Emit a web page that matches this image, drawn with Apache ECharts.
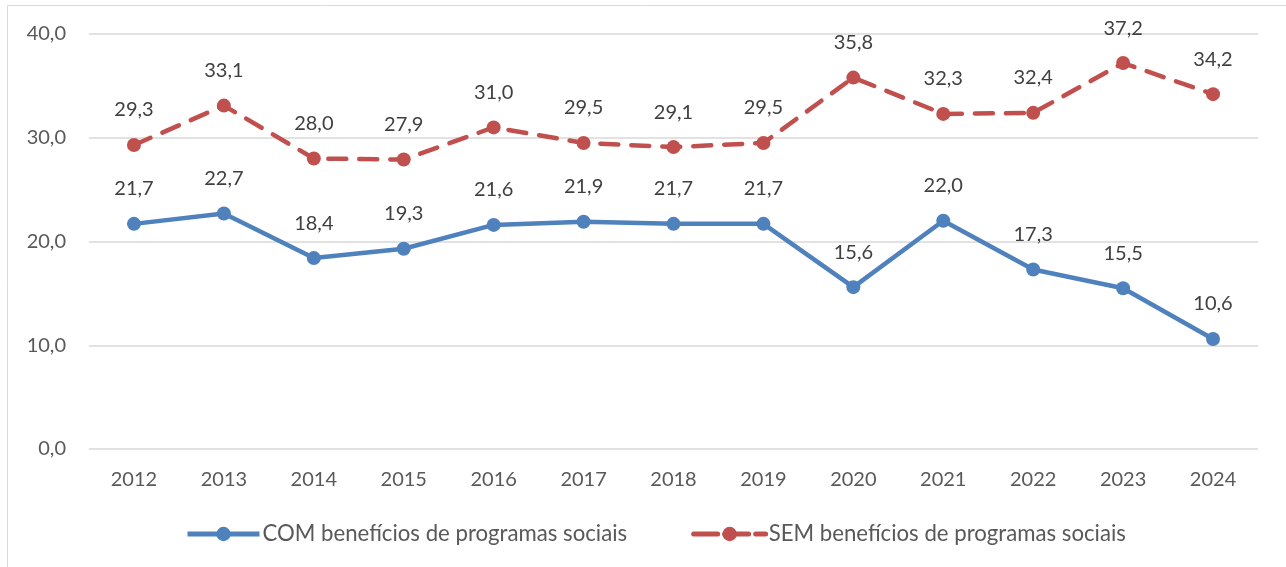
<!DOCTYPE html>
<html>
<head>
<meta charset="utf-8">
<script src="https://cdn.jsdelivr.net/npm/echarts@6/dist/echarts.min.js"></script>
<style>
  html, body { margin: 0; padding: 0; background: #fff; }
  #chart { width: 1286px; height: 567px; }
</style>
</head>
<body>
<div id="chart"></div>
<script>
const years = ['2012', '2013', '2014', '2015', '2016', '2017', '2018', '2019', '2020', '2021', '2022', '2023', '2024']
const comBeneficios = [21.7, 22.7, 18.4, 19.3, 21.6, 21.9, 21.7, 21.7, 15.6, 22.0, 17.3, 15.5, 10.6]
const semBeneficios = [29.3, 33.1, 28.0, 27.9, 31.0, 29.5, 29.1, 29.5, 35.8, 32.3, 32.4, 37.2, 34.2]
const seriesNames = ['COM benefícios de programas sociais', 'SEM benefícios de programas sociais']

const FONT = 'Lato, "Open Sans", sans-serif'
const fmt = v => v.toFixed(1).replace('.', ',')

const chart = echarts.init(document.getElementById('chart'))

// label common style
const labelStyle = {
  show: true,
  position: 'top',
  distance: 18,
  color: '#404040',
  fontSize: 20,
  fontFamily: FONT,
  formatter: p => fmt(p.value)
}

chart.setOption({
  animation: false,
  graphic: [{
    type: 'rect',
    shape: { x: 7.5, y: 5.5, width: 1300, height: 600 },
    style: { fill: 'none', stroke: '#d9d9d9', lineWidth: 1 },
    silent: true
  }],
  grid: { left: 89, right: 28, top: 34, bottom: 118 },
  legend: {
    left: 180,
    top: 518,
    itemWidth: 72,
    itemHeight: 18,
    itemGap: 64,
    textStyle: { color: '#595959', fontSize: 22.2, fontFamily: FONT, padding: [0, 0, 0, -2] },
    data: [
      { name: seriesNames[0], lineStyle: { width: 5, type: 'solid' } },
      { name: seriesNames[1], lineStyle: { width: 5, type: [24, 7], cap: 'round' } }
    ]
  },
  xAxis: {
    type: 'category',
    data: years,
    boundaryGap: true,
    axisLine: { show: false },
    axisTick: { show: false },
    axisLabel: { color: '#595959', fontSize: 20, fontFamily: FONT, margin: 21 }
  },
  yAxis: {
    type: 'value',
    min: 0,
    max: 40,
    interval: 10,
    axisLine: { show: false },
    axisTick: { show: false },
    splitLine: { lineStyle: { color: '#d9d9d9', width: 1.5 } },
    axisLabel: { color: '#595959', fontSize: 20, fontFamily: FONT, margin: 23, formatter: v => fmt(v) }
  },
  series: [
    {
      name: seriesNames[0],
      type: 'line',
      data: comBeneficios,
      symbol: 'circle',
      symbolSize: 14,
      itemStyle: { color: '#4f81bd' },
      lineStyle: { color: '#4f81bd', width: 4.5 },
      label: labelStyle
    },
    {
      name: seriesNames[1],
      type: 'line',
      data: semBeneficios,
      symbol: 'circle',
      symbolSize: 14,
      itemStyle: { color: '#c0504d' },
      lineStyle: { color: '#c0504d', width: 4.5, type: [18, 13], cap: 'round' },
      label: labelStyle
    }
  ]
})
</script>
</body>
</html>
